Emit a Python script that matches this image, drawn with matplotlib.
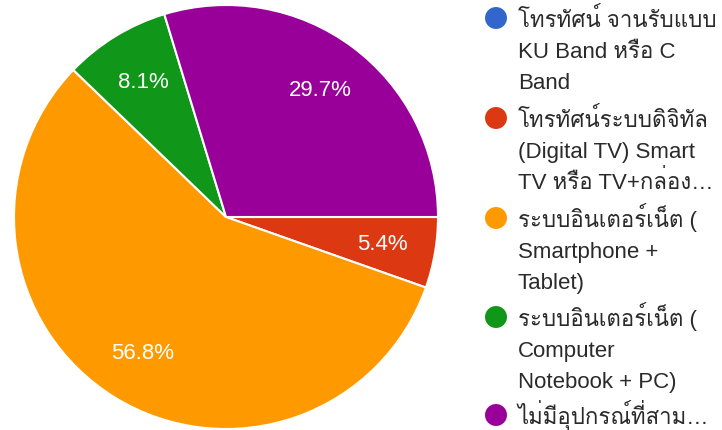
import matplotlib
matplotlib.use("Agg")
import matplotlib.pyplot as plt

categories = [
    "โทรทัศน์ จานรับแบบ\nKU Band หรือ C\nBand",
    "โทรทัศน์ระบบดิจิทัล\n(Digital TV) Smart\nTV หรือ TV+กล่อง…",
    "ระบบอินเตอร์เน็ต (\nSmartphone +\nTablet)",
    "ระบบอินเตอร์เน็ต (\nComputer\nNotebook + PC)",
    "ไม่มีอุปกรณ์ที่สาม…",
]
values = [0.0, 5.4, 56.8, 8.1, 29.7]
colors = ["#3366cc", "#dc3912", "#ff9900", "#109618", "#990099"]

FAM = ["Liberation Sans", "Loma", "Noto Sans Thai Looped", "DejaVu Sans"]
plt.rcParams["font.family"] = FAM

W, H = 722, 431
fig = plt.figure(figsize=(W / 100, H / 100), dpi=100)

# pie axes: center (226,218), radius 212 px
cx, cy, r = 226, 218, 212
ax = fig.add_axes([(cx - r) / W, (H - cy - r) / H, 2 * r / W, 2 * r / H])
ax.pie(
    values,
    colors=colors,
    startangle=0,
    counterclock=False,
    autopct=lambda p: f"{p:.1f}%" if p > 0 else "",
    pctdistance=0.75,
    wedgeprops=dict(edgecolor="white", linewidth=1.5),
    textprops=dict(color="white", fontsize=16),
)
ax.set_xlim(-1, 1)
ax.set_ylim(-1, 1)
ax.set_aspect("equal")
ax.axis("off")

# legend overlay in pixel coordinates
lg = fig.add_axes([0, 0, 1, 1])
lg.set_xlim(0, W)
lg.set_ylim(H, 0)
lg.axis("off")
entry_y = [19, 119, 219, 318, 416]
line_h = 31
for lab, col, y0 in zip(categories, colors, entry_y):
    lg.scatter([496], [y0], s=250, color=col, edgecolors="none", zorder=3)
    for j, line in enumerate(lab.split("\n")):
        lg.text(518, y0 + 8 + j * line_h, line, fontsize=16, color="#2a2a2a",
                va="baseline", ha="left")

fig.savefig("out.png", dpi=100)
